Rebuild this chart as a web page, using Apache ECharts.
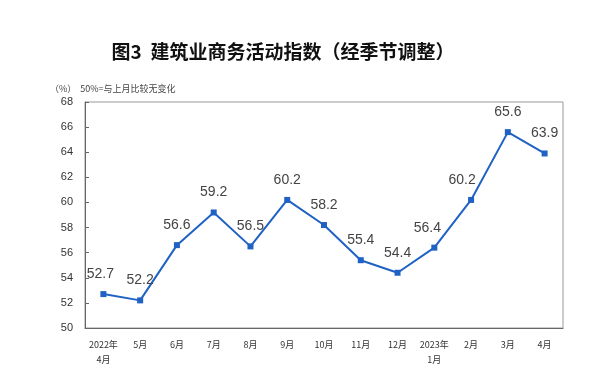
<!DOCTYPE html>
<html><head><meta charset="utf-8">
<script src="https://cdn.jsdelivr.net/npm/echarts@6/dist/echarts.min.js"></script>
<style>html,body{margin:0;padding:0;background:#fff}#c{width:600px;height:392px}</style>
</head><body><div id="c"></div>
<script>
var categories = ['2022年\n4月','5月','6月','7月','8月','9月','10月','11月','12月','2023年\n1月','2月','3月','4月'];
var values = [52.7,52.2,56.6,59.2,56.5,60.2,58.2,55.4,54.4,56.4,60.2,65.6,63.9];
var yTicks = [50,52,54,56,58,60,62,64,66,68];
var titleText = '图3  建筑业商务活动指数（经季节调整）';
var noteText = '（%）  50%=与上月比较无变化';

var labelShift = {0:[-3,0],9:[-7,0],10:[-9,0]};
var chart = echarts.init(document.getElementById('c'));
var font = '"Noto Sans CJK SC", "Noto Sans", sans-serif';
chart.setOption({
  backgroundColor:'#fff',
  animation:false,
  title:[
    {text:titleText,left:278,textAlign:'center',top:37,textStyle:{fontFamily:font,fontSize:19,fontWeight:'bold',color:'#111'}},
    {text:noteText,left:45,top:79,textStyle:{fontFamily:font,fontSize:9,fontWeight:'normal',color:'#444'}}
  ],
  grid:{left:85,right:37,top:102,bottom:64,show:true,borderColor:'#999',borderWidth:1,backgroundColor:'transparent'},
  xAxis:{type:'category',data:categories,boundaryGap:true,
    axisLine:{lineStyle:{color:'#666',width:1}},
    axisTick:{inside:true,length:4,lineStyle:{color:'#666'}},
    axisLabel:{fontFamily:font,fontSize:9,color:'#333',margin:9,lineHeight:15,interval:0}},
  yAxis:{type:'value',min:yTicks[0],max:yTicks[yTicks.length-1],interval:2,
    splitLine:{show:false},
    axisLine:{show:true,lineStyle:{color:'#666',width:1}},
    axisTick:{show:true,inside:true,length:4,lineStyle:{color:'#666'}},
    axisLabel:{fontFamily:'"Liberation Sans", Arial, sans-serif',fontSize:11,color:'#333',margin:12}},
  series:[{type:'line',
    data:values.map(function(v,i){
      var s = labelShift[i];
      return s ? {value:v,label:{offset:s}} : v;
    }),
    symbol:'rect',symbolSize:6,
    lineStyle:{color:'#1f62c4',width:2},
    itemStyle:{color:'#1f62c4'},
    label:{show:true,position:'top',distance:10,fontFamily:'"Liberation Sans", Arial, sans-serif',fontSize:14,color:'#444'}
  }]
});
</script></body></html>
